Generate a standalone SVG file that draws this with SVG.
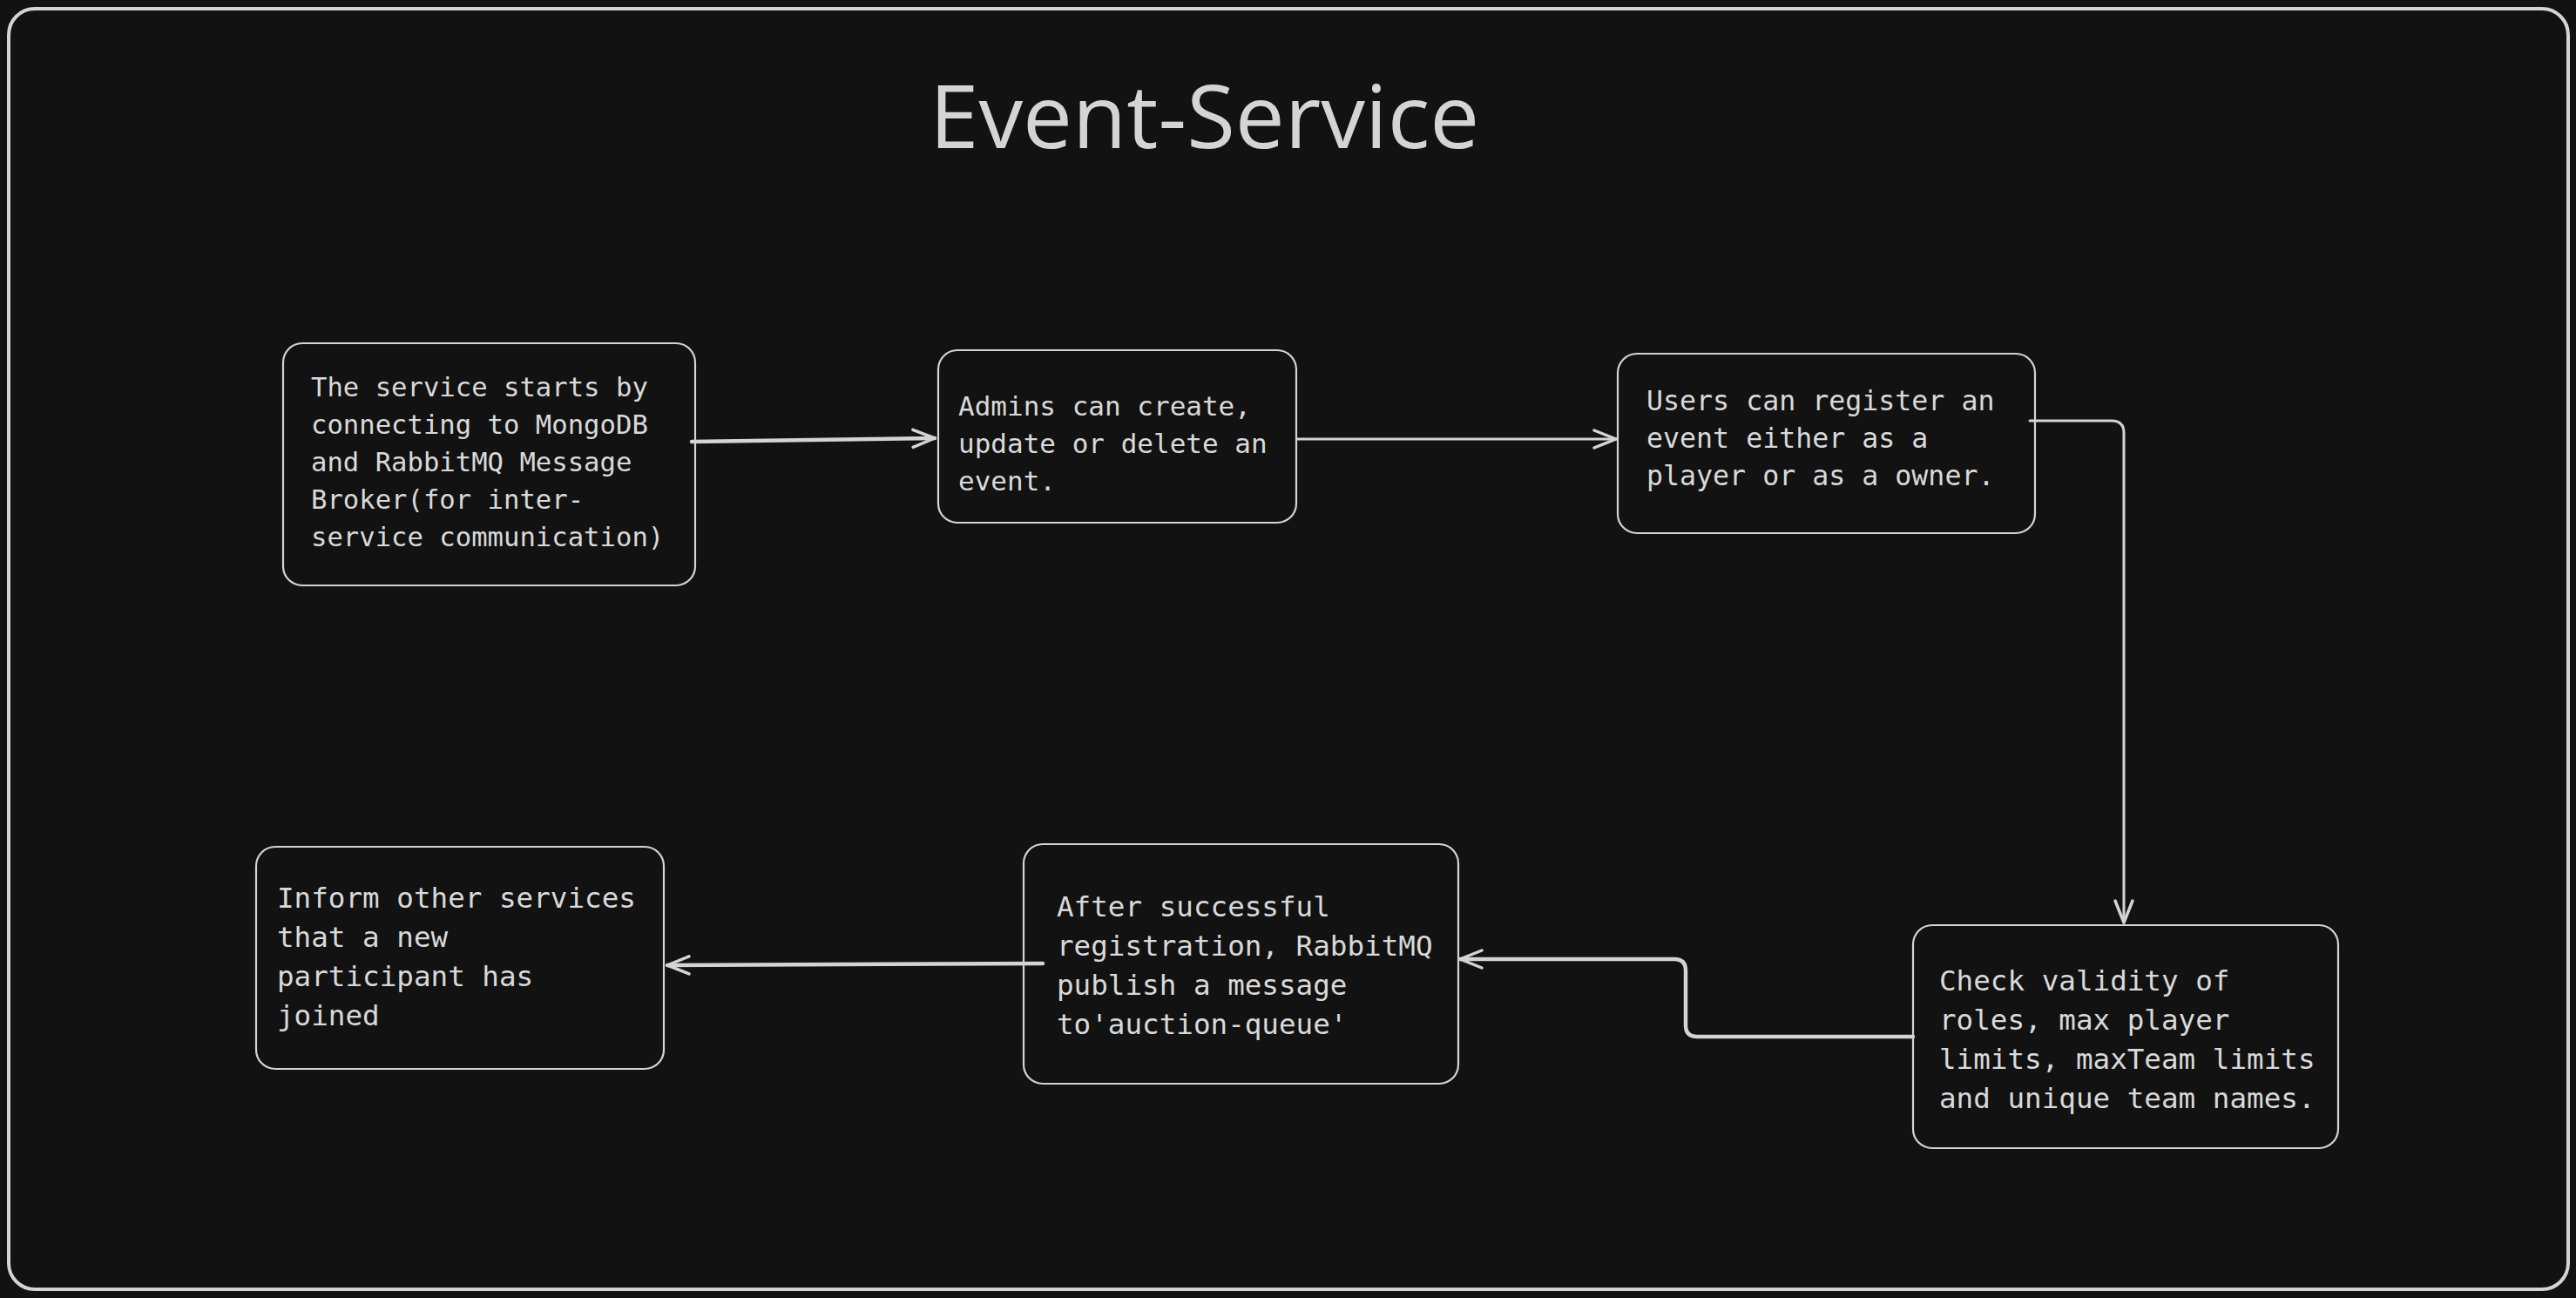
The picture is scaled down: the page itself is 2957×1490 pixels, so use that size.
<svg xmlns="http://www.w3.org/2000/svg" width="2957" height="1490" viewBox="0 0 2957 1490">
<defs>
<style>
.box{fill:#121212;stroke:#d4d4d4;stroke-width:2.2}
.t{fill:#d9d9d9;font-family:"DejaVu Sans Mono","Liberation Mono",monospace}
.c{fill:none;stroke:#d4d4d4;stroke-linecap:round;stroke-linejoin:round}
</style>
<marker id="ah" markerUnits="userSpaceOnUse" viewBox="-30 -15 35 30" markerWidth="35" markerHeight="30" refX="0" refY="0" orient="auto" overflow="visible">
<path d="M-25,-10 L0,0 L-25,10" fill="none" stroke="#d4d4d4" stroke-width="3.5" stroke-linecap="round" stroke-linejoin="round"/>
</marker>
</defs>
<rect x="0" y="0" width="2957" height="1490" fill="#121212"/>
<rect x="10" y="10" width="2938" height="1470" rx="30" fill="#121212" stroke="#d4d4d4" stroke-width="4"/>
<text x="1067" y="170" font-family="'Open Sans','Noto Sans',sans-serif" font-size="101.5" fill="#d4d4d4">Event-Service</text>

<g id="n1">
<rect class="box" x="325" y="394" width="473" height="278" rx="22"/>
<text class="t" font-size="30.6"><tspan x="357" y="455">The service starts by</tspan><tspan x="357" y="498">connecting to MongoDB</tspan><tspan x="357" y="541">and RabbitMQ Message</tspan><tspan x="357" y="584">Broker(for inter-</tspan><tspan x="357" y="627">service communication)</tspan></text>
</g>
<g id="n2">
<rect class="box" x="1077" y="402" width="411" height="198" rx="22"/>
<text class="t" font-size="31"><tspan x="1100" y="477">Admins can create,</tspan><tspan x="1100" y="520">update or delete an</tspan><tspan x="1100" y="563">event.</tspan></text>
</g>
<g id="n3">
<rect class="box" x="1857" y="406" width="479" height="206" rx="22"/>
<text class="t" font-size="31.6"><tspan x="1890" y="471">Users can register an</tspan><tspan x="1890" y="514">event either as a</tspan><tspan x="1890" y="557">player or as a owner.</tspan></text>
</g>
<g id="n4">
<rect class="box" x="2196" y="1062" width="488" height="256" rx="22"/>
<text class="t" font-size="32.6"><tspan x="2226" y="1137">Check validity of</tspan><tspan x="2226" y="1182">roles, max player</tspan><tspan x="2226" y="1227">limits, maxTeam limits</tspan><tspan x="2226" y="1272">and unique team names.</tspan></text>
</g>
<g id="n5">
<rect class="box" x="1175" y="969" width="499" height="275" rx="22"/>
<text class="t" font-size="32.6"><tspan x="1213" y="1052">After successful</tspan><tspan x="1213" y="1097">registration, RabbitMQ</tspan><tspan x="1213" y="1142">publish a message</tspan><tspan x="1213" y="1187">to'auction-queue'</tspan></text>
</g>
<g id="n6">
<rect class="box" x="294" y="972" width="468" height="255" rx="22"/>
<text class="t" font-size="32.6"><tspan x="318" y="1042">Inform other services</tspan><tspan x="318" y="1087">that a new</tspan><tspan x="318" y="1132">participant has</tspan><tspan x="318" y="1177">joined</tspan></text>
</g>

<g id="connectors">
<path class="c" stroke-width="4.5" d="M794,507 L1073,503" marker-end="url(#ah)"/>
<path class="c" stroke-width="3" d="M1489,504 L1855,504" marker-end="url(#ah)"/>
<path class="c" stroke-width="3" d="M2330,483 L2424,483 Q2438,483 2438,497 L2438,1059" marker-end="url(#ah)"/>
<path class="c" stroke-width="4.5" d="M2196,1190 L1948,1190 Q1935,1190 1935,1177 L1935,1114 Q1935,1101 1922,1101 L1676,1101" marker-end="url(#ah)"/>
<path class="c" stroke-width="4.5" d="M1197,1106 L766,1108" marker-end="url(#ah)"/>
</g>
</svg>
